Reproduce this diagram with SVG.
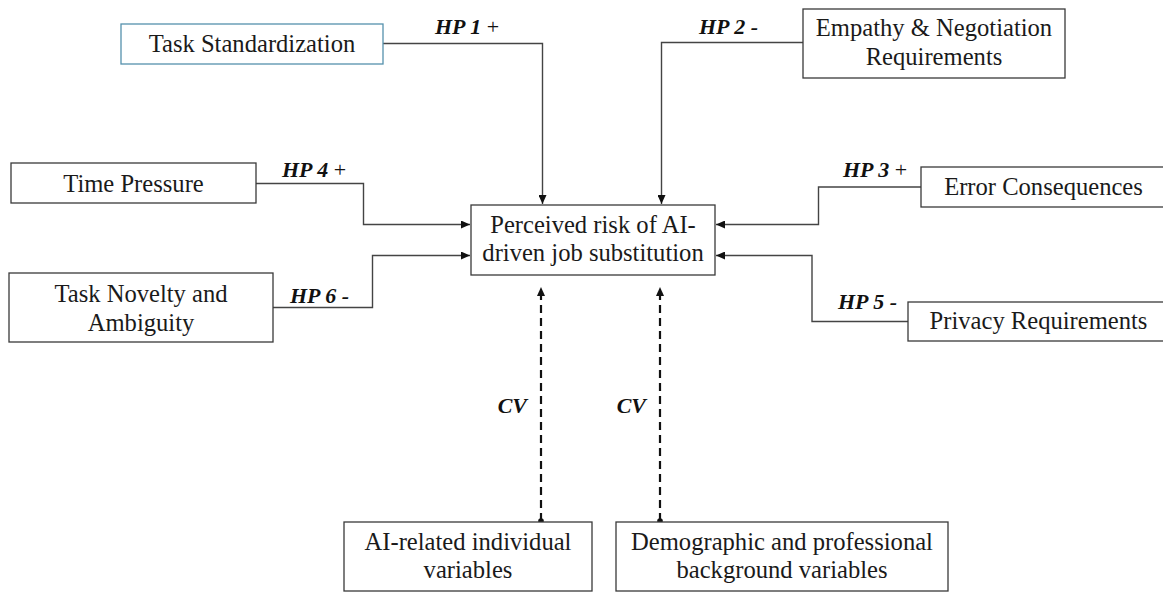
<svg xmlns="http://www.w3.org/2000/svg" width="1163" height="592" viewBox="0 0 1163 592" font-family="'Liberation Serif', 'Times New Roman', 'DejaVu Serif', serif">
<style>
.box{fill:#fff;stroke:#3a3a3a;stroke-width:1.3}
.teal{stroke:#5591ad}
.t{font-family:'Liberation Serif','Times New Roman','DejaVu Serif',serif;font-size:24.6px;fill:#1a1a1a;text-anchor:middle}
.hp{font-family:'Liberation Serif','Times New Roman','DejaVu Serif',serif;font-size:22px;fill:#111}
.bi{font-weight:bold;font-style:italic}
.ln{fill:none;stroke:#444;stroke-width:1.4}
.dash{fill:none;stroke:#111;stroke-width:2.2;stroke-dasharray:8 5}
</style>
<defs>
<marker id="ah" markerUnits="userSpaceOnUse" markerWidth="10" markerHeight="8" refX="9" refY="4" orient="auto">
<path d="M0,0 L9,4 L0,8 z" fill="#111"/>
</marker>
</defs>
<rect width="1163" height="592" fill="#fff"/>
<g id="connectors">
<path class="ln" d="M383,43.5 H542.5 V204" marker-end="url(#ah)"/>
<path class="ln" d="M803,42.5 H661.5 V204" marker-end="url(#ah)"/>
<path class="ln" d="M256,183.5 H363.5 V224.5 H470" marker-end="url(#ah)"/>
<path class="ln" d="M273,307.5 H372.5 V255.5 H470" marker-end="url(#ah)"/>
<path class="ln" d="M921,187 H818.5 V224.5 H716" marker-end="url(#ah)"/>
<path class="ln" d="M908,321.5 H812 V255.5 H716" marker-end="url(#ah)"/>
<path class="dash" d="M541,521 V287" marker-end="url(#ah)"/>
<path class="dash" d="M660,521 V287" marker-end="url(#ah)"/>
<circle cx="541" cy="521" r="2.8" fill="#111"/>
<circle cx="660" cy="521" r="2.8" fill="#111"/>
<text class="hp" x="435" y="34"><tspan class="bi">HP 1</tspan> +</text>
<text class="hp" x="699" y="34"><tspan class="bi">HP 2 -</tspan></text>
<text class="hp" x="282" y="177"><tspan class="bi">HP 4</tspan> +</text>
<text class="hp" x="290" y="303"><tspan class="bi">HP 6 -</tspan></text>
<text class="hp" x="843" y="177"><tspan class="bi">HP 3</tspan> +</text>
<text class="hp" x="838" y="309"><tspan class="bi">HP 5 -</tspan></text>
<text class="hp bi" x="527" y="413" text-anchor="end">CV</text>
<text class="hp bi" x="646" y="413" text-anchor="end">CV</text>
</g>
<g id="task-standardization">
<rect class="box teal" x="121" y="24" width="262" height="40"/>
<text class="t" x="252" y="52">Task Standardization</text>
</g>
<g id="empathy">
<rect class="box" x="803" y="9" width="262" height="69"/>
<text class="t" x="934" y="36">Empathy &amp; Negotiation</text>
<text class="t" x="934" y="65">Requirements</text>
</g>
<g id="time-pressure">
<rect class="box" x="11" y="163" width="245" height="40"/>
<text class="t" x="133.5" y="192">Time Pressure</text>
</g>
<g id="task-novelty">
<rect class="box" x="9" y="273" width="264" height="69"/>
<text class="t" x="141" y="302">Task Novelty and</text>
<text class="t" x="141" y="331">Ambiguity</text>
</g>
<g id="perceived-risk">
<rect class="box" x="471" y="205" width="244" height="70"/>
<text class="t" x="593" y="233">Perceived risk of AI-</text>
<text class="t" x="593" y="261">driven job substitution</text>
</g>
<g id="error-consequences">
<rect class="box" x="921" y="167" width="250" height="40"/>
<text class="t" x="1043.5" y="195">Error Consequences</text>
</g>
<g id="privacy-requirements">
<rect class="box" x="908" y="302" width="262" height="39"/>
<text class="t" x="1038.5" y="329">Privacy Requirements</text>
</g>
<g id="ai-related">
<rect class="box" x="344" y="522" width="248" height="69"/>
<text class="t" x="468" y="550">AI-related individual</text>
<text class="t" x="468" y="578">variables</text>
</g>
<g id="demographic">
<rect class="box" x="616" y="522" width="332" height="69"/>
<text class="t" x="782" y="550">Demographic and professional</text>
<text class="t" x="782" y="578">background variables</text>
</g>
</svg>
